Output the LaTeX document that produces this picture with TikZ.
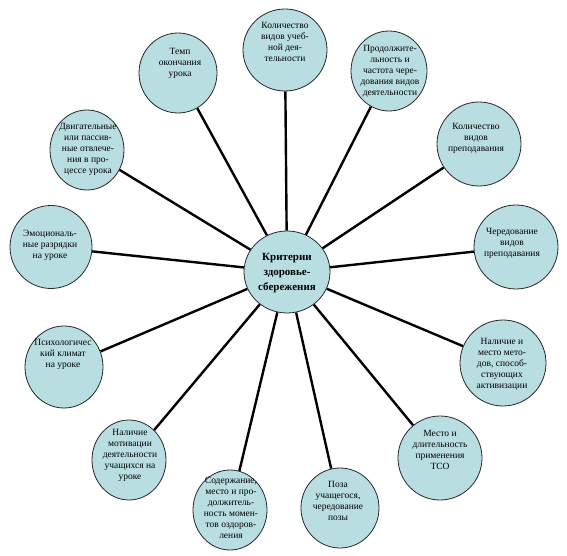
\documentclass[tikz,border=0pt]{standalone}
\usepackage{fontspec}
\setmainfont{Liberation Serif}
\usetikzlibrary{shapes.geometric,backgrounds}
\definecolor{bubble}{RGB}{184,222,226}
\definecolor{rim}{RGB}{40,40,40}
\tikzset{
  bub/.style={ellipse,draw=rim,line width=0.8pt,fill=bubble,inner sep=0pt},
  txt/.style={align=center,inner sep=0pt,font=\fontsize{9.5}{11}\selectfont},
  conn/.style={line width=2.4pt,black},
}
\begin{document}
\begin{tikzpicture}[x=1pt,y=-1pt]
\useasboundingbox (0,0) rectangle (567,556);
\node[bub,minimum width=86pt,minimum height=82pt] (c) at (287,272) {};
\node[align=center,inner sep=0pt,font=\bfseries\fontsize{11}{15}\selectfont] (ct) at (287,273) {Критерии\\здоровье-\\сбережения};
\node[bub,minimum width=84pt,minimum height=82pt] (n1) at (285,50) {};
\node[bub,minimum width=78pt,minimum height=80pt] (n2) at (178,73) {};
\node[bub,minimum width=76pt,minimum height=80pt] (n3) at (389,71) {};
\node[bub,minimum width=84pt,minimum height=84pt] (n4) at (479,144) {};
\node[bub,minimum width=84pt,minimum height=84pt] (n5) at (516,247) {};
\node[bub,minimum width=86pt,minimum height=86pt] (n6) at (503,363) {};
\node[bub,minimum width=84pt,minimum height=84pt] (n7) at (440,458) {};
\node[bub,minimum width=78pt,minimum height=80pt] (n8) at (340,508) {};
\node[bub,minimum width=74pt,minimum height=80pt] (n9) at (230,510) {};
\node[bub,minimum width=74pt,minimum height=80pt] (n10) at (129,460) {};
\node[bub,minimum width=78pt,minimum height=82pt] (n11) at (64,367) {};
\node[bub,minimum width=82pt,minimum height=83pt] (n12) at (51,247) {};
\node[bub,minimum width=74pt,minimum height=80pt] (n13) at (87,150) {};
\node[txt] (t1) at (285,42) {Количество\\видов учеб-\\ной дея-\\тельности};
\node[txt] (t2) at (180,63) {Темп\\окончания\\урока};
\node[txt] (t3) at (390,71) {Продолжите-\\льность и\\частота чере-\\дования видов\\деятельности};
\node[txt] (t4) at (476,138) {Количество\\видов\\преподавания};
\node[txt] (t5) at (512,243) {Чередование\\видов\\преподавания};
\node[txt] (t6) at (502,364) {Наличие и\\место мето-\\дов, способ-\\ствующих\\активизации};
\node[txt] (t7) at (440,450) {Место и\\длительность\\применения\\ТСО};
\node[txt] (t8) at (338,501) {Поза\\учащегося,\\чередование\\позы};
\node[txt] (t9) at (231,508) {Содержание,\\место и про-\\должитель-\\ность момен-\\тов оздоров-\\ления};
\node[txt] (t10) at (130,455) {Наличие\\мотивации\\деятельности\\учащихся на\\уроке};
\node[txt] (t11) at (63,354) {Психологичес\\кий климат\\на уроке};
\node[txt] (t12) at (50,245) {Эмоциональ-\\ные разрядки\\на уроке};
\node[txt] (t13) at (88,149) {Двигательные\\или пассив-\\ные отвлече-\\ния в про-\\цессе урока};
\begin{scope}[on background layer]
\foreach \i in {1,...,13}{\draw[conn] (c) -- (n\i);}
\end{scope}
\end{tikzpicture}
\end{document}
